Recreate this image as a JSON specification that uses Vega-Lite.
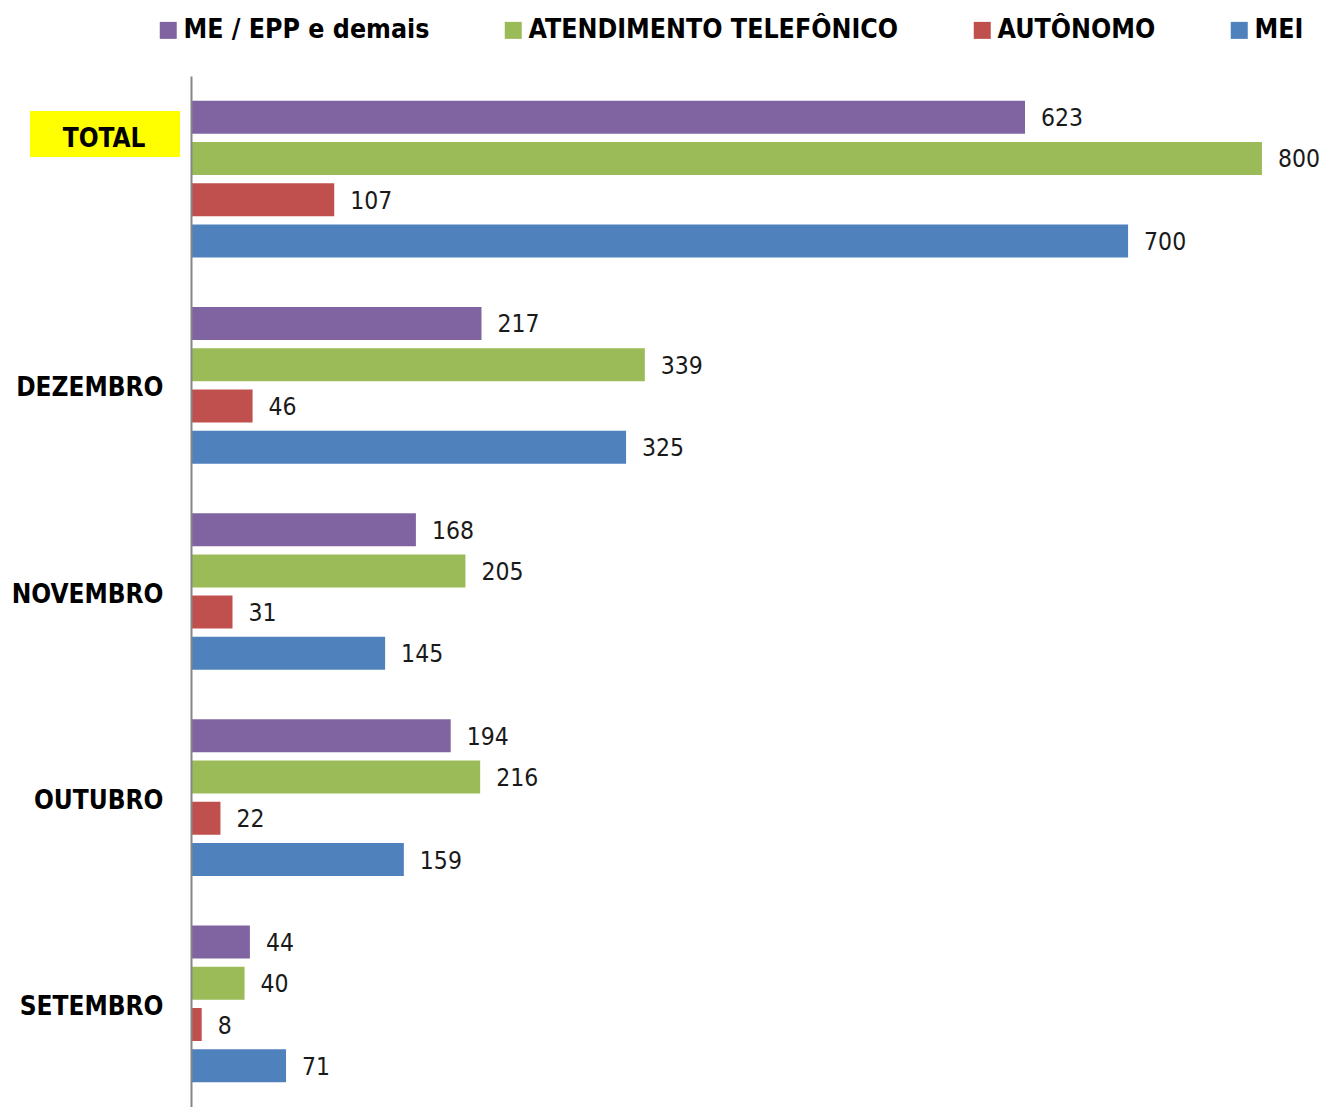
{
  "$schema": "https://vega.github.io/schema/vega-lite/v6.json",
  "autosize": {"type": "none"},
  "padding": {"left": 191, "top": 76, "right": 0, "bottom": 0},
  "width": 1132,
  "height": 1031,
  "background": "white",
  "config": {
    "view": {"stroke": null},
    "font": "DejaVu Sans Condensed, sans-serif"
  },
  "data": {
    "values": [
      {"periodo": "TOTAL", "tipo": "ME / EPP e demais", "valor": 623},
      {"periodo": "TOTAL", "tipo": "ATENDIMENTO TELEFÔNICO", "valor": 800},
      {"periodo": "TOTAL", "tipo": "AUTÔNOMO", "valor": 107},
      {"periodo": "TOTAL", "tipo": "MEI", "valor": 700},
      {"periodo": "DEZEMBRO", "tipo": "ME / EPP e demais", "valor": 217},
      {"periodo": "DEZEMBRO", "tipo": "ATENDIMENTO TELEFÔNICO", "valor": 339},
      {"periodo": "DEZEMBRO", "tipo": "AUTÔNOMO", "valor": 46},
      {"periodo": "DEZEMBRO", "tipo": "MEI", "valor": 325},
      {"periodo": "NOVEMBRO", "tipo": "ME / EPP e demais", "valor": 168},
      {"periodo": "NOVEMBRO", "tipo": "ATENDIMENTO TELEFÔNICO", "valor": 205},
      {"periodo": "NOVEMBRO", "tipo": "AUTÔNOMO", "valor": 31},
      {"periodo": "NOVEMBRO", "tipo": "MEI", "valor": 145},
      {"periodo": "OUTUBRO", "tipo": "ME / EPP e demais", "valor": 194},
      {"periodo": "OUTUBRO", "tipo": "ATENDIMENTO TELEFÔNICO", "valor": 216},
      {"periodo": "OUTUBRO", "tipo": "AUTÔNOMO", "valor": 22},
      {"periodo": "OUTUBRO", "tipo": "MEI", "valor": 159},
      {"periodo": "SETEMBRO", "tipo": "ME / EPP e demais", "valor": 44},
      {"periodo": "SETEMBRO", "tipo": "ATENDIMENTO TELEFÔNICO", "valor": 40},
      {"periodo": "SETEMBRO", "tipo": "AUTÔNOMO", "valor": 8},
      {"periodo": "SETEMBRO", "tipo": "MEI", "valor": 71}
    ]
  },
  "encoding": {
    "y": {
      "field": "periodo",
      "type": "nominal",
      "sort": ["TOTAL", "DEZEMBRO", "NOVEMBRO", "OUTUBRO", "SETEMBRO"],
      "scale": {"paddingInner": 0.2, "paddingOuter": 0.1},
      "axis": {
        "title": null,
        "zindex": 1,
        "domain": true,
        "domainColor": "#868686",
        "domainWidth": 2,
        "ticks": false,
        "labelFontSize": 26,
        "labelFontWeight": "bold",
        "labelColor": "#000000",
        "labelAlign": "right",
        "labelPadding": {"condition": {"test": "datum.value == 'TOTAL'", "value": 46}, "value": 28},
        "labelOffset": {"condition": {"test": "datum.value == 'TOTAL'", "value": -40}, "value": 3}
      }
    }
  },
  "layer": [
    {
      "data": {"values": [{"periodo": "TOTAL"}]},
      "mark": {"type": "bar", "color": "#ffff00", "height": {"band": 0.279}, "yOffset": -45},
      "encoding": {
        "x": {"datum": -120.3, "type": "quantitative", "scale": {"domain": [0, 845.6], "nice": false}, "axis": null},
        "x2": {"datum": -8.2}
      }
    },
    {
      "mark": {"type": "bar"},
      "encoding": {
        "yOffset": {
          "field": "tipo",
          "type": "nominal",
          "sort": ["ME / EPP e demais", "ATENDIMENTO TELEFÔNICO", "AUTÔNOMO", "MEI"],
          "scale": {"paddingInner": 0.2, "paddingOuter": 0.1}
        },
        "x": {"field": "valor", "type": "quantitative", "scale": {"domain": [0, 845.6], "nice": false}, "axis": null},
        "color": {
          "field": "tipo",
          "type": "nominal",
          "scale": {
            "domain": ["ME / EPP e demais", "ATENDIMENTO TELEFÔNICO", "AUTÔNOMO", "MEI"],
            "range": ["#8064A2", "#9BBB59", "#C0504D", "#4F81BD"]
          },
          "legend": {
            "title": null,
            "orient": "none",
            "legendX": -36,
            "legendY": -59,
            "direction": "horizontal",
            "padding": 0,
            "symbolType": "square",
            "symbolSize": 289,
            "symbolStrokeWidth": 0,
            "symbolOpacity": 1,
            "labelFontSize": 26.5,
            "labelFontWeight": "bold",
            "labelColor": "#000000",
            "labelOffset": 2,
            "columnPadding": 70,
            "labelLimit": 600
          }
        }
      }
    },
    {
      "mark": {"type": "text", "align": "left", "baseline": "middle", "dx": 16, "dy": 2, "fontSize": 24.5, "color": "#1a1a1a"},
      "encoding": {
        "yOffset": {
          "field": "tipo",
          "type": "nominal",
          "sort": ["ME / EPP e demais", "ATENDIMENTO TELEFÔNICO", "AUTÔNOMO", "MEI"],
          "scale": {"paddingInner": 0.2, "paddingOuter": 0.1}
        },
        "x": {"field": "valor", "type": "quantitative", "scale": {"domain": [0, 845.6], "nice": false}, "axis": null},
        "text": {"field": "valor", "type": "quantitative"}
      }
    }
  ]
}
